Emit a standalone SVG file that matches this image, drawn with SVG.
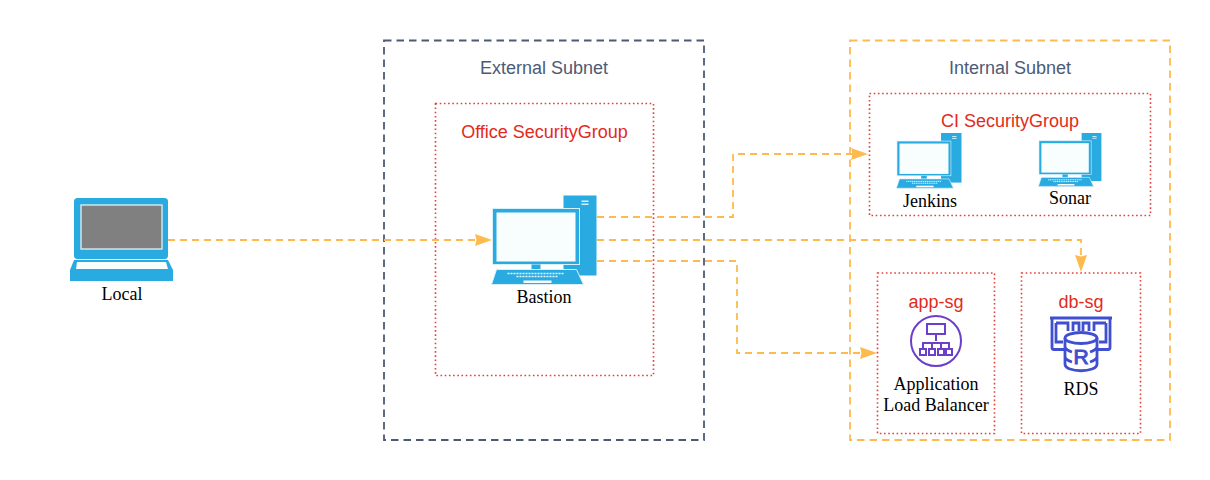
<svg xmlns="http://www.w3.org/2000/svg" width="1210" height="480" viewBox="0 0 1210 480">
<style>
.sans{font-family:"Liberation Sans",Arial,sans-serif}
.serif{font-family:"Liberation Serif","Times New Roman",serif;fill:#000;font-size:18px;text-anchor:middle}
.sub{font-size:18px;fill:#4c5b75;text-anchor:middle}
.sg{font-size:18px;fill:#e32a1c;text-anchor:middle}
.red{fill:none;stroke:#e0413a;stroke-width:1.600;stroke-dasharray:1.600 2.600}
.conn{fill:none;stroke:#fdbb4f;stroke-width:1.800;stroke-dasharray:7 5}
.b{fill:#29abe2}.w{fill:#f8fdfe}
.pur{fill:none;stroke:#6b3fc9;stroke-width:2}
.blu{fill:none;stroke:#3f4fd0;stroke-width:2.800}
</style>
<defs>
<marker id="arr" markerWidth="18" markerHeight="14" refX="17" refY="7" orient="auto" markerUnits="userSpaceOnUse"><path d="M0 1L17 7L0 13L1.500 7Z" fill="#fdbb4f"/></marker>
<g id="pc">
<rect x="71" y="0" width="33" height="80" class="b"/>
<rect x="89" y="5" width="7" height="1.500" fill="#d8f0fa"/><rect x="89" y="8" width="7" height="1.500" fill="#d8f0fa"/>
<rect x="0" y="13" width="87" height="56" fill="#29abe2" stroke="#d8f0fa" stroke-width="1"/>
<rect x="4" y="17" width="79" height="49" class="w"/>
<rect x="39" y="69" width="9" height="5" class="b"/>
<path d="M4 74H84L91 89H-1Z" class="b" stroke="#d8f0fa" stroke-width="1"/>
<path d="M15 78H72M24 81H66" stroke="#e8f7fc" stroke-width="1.600" stroke-dasharray="2 1" fill="none"/>
<rect x="31" y="85" width="28" height="2.500" class="w"/>
</g>
</defs>
<rect width="1210" height="480" fill="#fff"/>

<g id="external-subnet">
<rect x="384" y="40.500" width="320" height="399.500" fill="none" stroke="#4c5b75" stroke-width="1.800" stroke-dasharray="7.500 5"/>
<text class="sans sub" x="544" y="74">External Subnet</text>
</g>
<g id="internal-subnet">
<rect x="850" y="40.500" width="320" height="399.500" fill="none" stroke="#fdbb4f" stroke-width="1.800" stroke-dasharray="7.500 5"/>
<text class="sans sub" x="1010" y="74">Internal Subnet</text>
</g>
<g id="office-sg">
<rect x="435.500" y="103.500" width="218" height="272" class="red"/>
<text class="sans sg" x="544.500" y="138">Office SecurityGroup</text>
</g>
<g id="ci-sg">
<rect x="869.500" y="93.500" width="281" height="122" class="red"/>
<text class="sans sg" x="1010" y="127">CI SecurityGroup</text>
</g>
<g id="connectors">
<path class="conn" d="M168 240H492" marker-end="url(#arr)"/>
<path class="conn" d="M597 217H733V154H868" marker-end="url(#arr)"/>
<path class="conn" d="M597 240H1081V272" marker-end="url(#arr)"/>
<path class="conn" d="M597 261H737V353H877" marker-end="url(#arr)"/>
</g>
<g id="local">
<rect x="74" y="198" width="94" height="61" rx="3.500" class="b"/>
<rect x="81" y="205" width="81" height="44" fill="#808080" stroke="#e3eef2" stroke-width="1.300"/>
<path d="M74 260H168L173 270V281H70V270Z" class="b"/>
<path d="M77 262H166L168 269H76Z" class="w"/>
<text class="serif" x="122" y="300">Local</text>
</g>
<g id="bastion">
<use href="#pc" transform="translate(492.500,195.500)"/>
<text class="serif" x="544" y="303">Bastion</text>
</g>
<g id="jenkins">
<use href="#pc" transform="translate(897,133) scale(.62,.62)"/>
<text class="serif" x="930" y="207">Jenkins</text>
</g>
<g id="sonar">
<use href="#pc" transform="translate(1039,133) scale(.6,.6)"/>
<text class="serif" x="1070" y="204">Sonar</text>
</g>
<g id="app-sg">
<rect x="877.500" y="273" width="117" height="160.500" class="red"/>
<text class="sans sg" x="936" y="308">app-sg</text>
<circle cx="936" cy="341" r="25" class="pur"/>
<g class="pur">
<rect x="927" y="324" width="18" height="10"/>
<path d="M936 334V341M923 349V343H949V349M932 349V343M941 349V343"/>
<rect x="920" y="349" width="6" height="6"/><rect x="929" y="349" width="6" height="6"/><rect x="938" y="349" width="6" height="6"/><rect x="946" y="349" width="6" height="6"/>
</g>
<text class="serif" x="936" y="390">Application</text>
<text class="serif" x="936" y="411">Load Balancer</text>
</g>
<g id="db-sg">
<rect x="1021.500" y="273" width="119" height="160.500" class="red"/>
<text class="sans sg" x="1081" y="308">db-sg</text>
<g class="blu">
<path d="M1050 318H1112M1052 318V347.500C1052 349 1053 349.500 1054 349.500H1064M1110 318V347.500C1110 349 1109 349.500 1108 349.500H1098"/>
<path d="M1056 323V342H1063M1106 323V342H1099M1056 323H1068V331M1073 331V323H1079V331M1083 331V323H1089V331M1094 331V323H1106"/>
<ellipse cx="1081" cy="338" rx="16" ry="5.500"/>
<path d="M1065 338V364C1065 373 1097 373 1097 364V338M1065 347C1066 350 1069 351 1072 352M1097 347C1096 350 1093 351 1090 352M1065 357C1066 360 1069 361 1072 362M1097 357C1096 360 1093 361 1090 362"/>
</g>
<text x="1081" y="364" text-anchor="middle" font-size="21" fill="#3f4fd0" class="sans" stroke="#3f4fd0" stroke-width="1">R</text>
<text class="serif" x="1081" y="395">RDS</text>
</g>
</svg>
